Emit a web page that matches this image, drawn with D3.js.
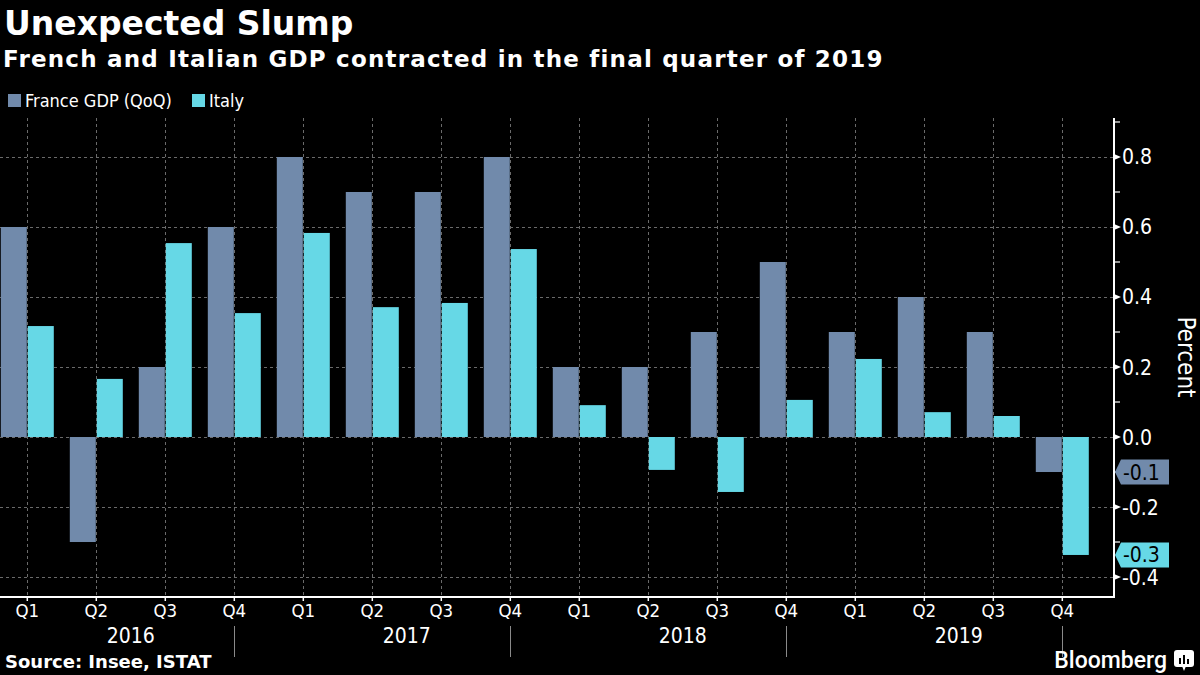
<!DOCTYPE html>
<html>
<head>
<meta charset="utf-8">
<script src="https://cdn.jsdelivr.net/npm/d3@7"></script>
<style>
  html, body { margin: 0; padding: 0; background: #000; }
  svg { display: block; }
  .cond { font-family: "DejaVu Sans Condensed", "DejaVu Sans", sans-serif; font-stretch: condensed; }
  .bold { font-family: "DejaVu Sans", sans-serif; font-weight: bold; }
</style>
</head>
<body>
<svg id="chart" width="1200" height="675"></svg>
<script>
// ---- data ----
const quarters = ["Q1","Q2","Q3","Q4","Q1","Q2","Q3","Q4","Q1","Q2","Q3","Q4","Q1","Q2","Q3","Q4"];
const years = ["2016","2017","2018","2019"];
const periods = quarters.map((q, i) => years[Math.floor(i / 4)] + " " + q);
const seriesNames = ["France GDP (QoQ)", "Italy"];
const france = [0.6, -0.3, 0.2, 0.6, 0.8, 0.7, 0.7, 0.8, 0.2, 0.2, 0.3, 0.5, 0.3, 0.4, 0.3, -0.1];
const italy  = [0.317, 0.166, 0.554, 0.354, 0.583, 0.371, 0.383, 0.537, 0.091, -0.094, -0.157, 0.106, 0.223, 0.071, 0.06, -0.337];
const yMajorTicks = [-0.4, -0.2, 0.0, 0.2, 0.4, 0.6, 0.8];
const yMinorTicks = [-0.3, -0.1, 0.1, 0.3, 0.5, 0.7, 0.9];
const lastLabels = ["-0.1", "-0.3"];

const colors = ["#718aab", "#66d8e6"];

const svg = d3.select("#chart");
svg.append("rect").attr("width", 1200).attr("height", 675).attr("fill", "#000");

// ---- scales ----
const plotLeft = 0, axisX = 1114, plotTop = 118, plotBottom = 597;
const x = d3.scaleBand().domain(periods).range([-7.2, 1096.8]).paddingInner(0.232).paddingOuter(0.116);
const xs = d3.scaleBand().domain(seriesNames).range([0, x.bandwidth()]).paddingInner(0.037);
const y = d3.scaleLinear().domain([-0.4571, 0.9114]).range([plotBottom, plotTop]);
const cx = p => x(p) + x.bandwidth() / 2;

// ---- gridlines ----
const grid = svg.append("g").attr("stroke", "#6a6a6a").attr("stroke-dasharray", "3,3").attr("stroke-width", 1);
grid.selectAll("line.h").data(yMajorTicks).join("line")
  .attr("x1", plotLeft).attr("x2", axisX).attr("y1", d => Math.round(y(d)) + 0.5).attr("y2", d => Math.round(y(d)) + 0.5);
grid.selectAll("line.v").data(periods).join("line")
  .attr("x1", d => Math.round(cx(d)) + 0.5).attr("x2", d => Math.round(cx(d)) + 0.5)
  .attr("y1", plotTop).attr("y2", plotBottom);

// ---- bars ----
const rows = periods.map((p, i) => ({ p, vals: [france[i], italy[i]] }));
const groups = svg.append("g").selectAll("g").data(rows).join("g")
  .attr("transform", d => `translate(${x(d.p)},0)`);
groups.selectAll("rect").data(d => d.vals.map((v, k) => ({ v, k }))).join("rect")
  .attr("x", d => xs(seriesNames[d.k]))
  .attr("width", xs.bandwidth())
  .attr("y", d => y(Math.max(0, d.v)))
  .attr("height", d => Math.abs(y(d.v) - y(0)))
  .attr("fill", d => colors[d.k]);

// ---- x axis ----
svg.append("line").attr("x1", 0).attr("x2", axisX + 1).attr("y1", plotBottom).attr("y2", plotBottom)
  .attr("stroke", "#fff").attr("stroke-width", 2);
svg.append("g").selectAll("line").data(periods).join("line")
  .attr("x1", d => cx(d)).attr("x2", d => cx(d)).attr("y1", plotBottom).attr("y2", plotBottom + 4)
  .attr("stroke", "#fff").attr("stroke-width", 1.5);
svg.append("g").attr("class", "cond").selectAll("text").data(periods).join("text")
  .attr("x", d => cx(d)).attr("y", 617).attr("text-anchor", "middle")
  .attr("fill", "#fff").attr("font-size", 18.5).text((d, i) => quarters[i]);
svg.append("g").attr("class", "cond").selectAll("text").data(years).join("text")
  .attr("x", (d, i) => (cx(periods[i * 4]) + cx(periods[i * 4 + 3])) / 2).attr("y", 643)
  .attr("text-anchor", "middle").attr("fill", "#fff").attr("font-size", 21).text(d => d);
svg.append("g").selectAll("line").data(years).join("line")
  .attr("x1", (d, i) => Math.round(cx(periods[i * 4 + 3])) + 0.5).attr("x2", (d, i) => Math.round(cx(periods[i * 4 + 3])) + 0.5)
  .attr("y1", 626).attr("y2", 657).attr("stroke", "#8a8a8a").attr("stroke-width", 1);

// ---- y axis (right) ----
svg.append("line").attr("x1", axisX).attr("x2", axisX).attr("y1", plotTop).attr("y2", plotBottom + 1)
  .attr("stroke", "#fff").attr("stroke-width", 2);
svg.append("g").selectAll("line").data(yMinorTicks).join("line")
  .attr("x1", axisX).attr("x2", axisX + 6).attr("y1", d => y(d)).attr("y2", d => y(d))
  .attr("stroke", "#fff").attr("stroke-width", 1.2);
svg.append("g").selectAll("path").data(yMajorTicks).join("path")
  .attr("d", d => `M${axisX},${y(d) - 3}L${axisX + 7},${y(d)}L${axisX},${y(d) + 3}Z`)
  .attr("fill", "#fff");
svg.append("g").attr("class", "cond").selectAll("text").data(yMajorTicks).join("text")
  .attr("x", 1122).attr("y", d => y(d) + 7.5).attr("fill", "#fff").attr("font-size", 21)
  .text(d => d3.format(".1f")(d).replace("\u2212", "-"));
svg.append("text").attr("class", "cond")
  .attr("transform", `translate(1178,${357}) rotate(90)`)
  .attr("text-anchor", "middle").attr("fill", "#fff").attr("font-size", 24).attr("font-stretch", "normal")
  .style("font-family", "'DejaVu Sans', sans-serif").text("Percent");

// ---- last value labels ----
const last = periods.length - 1;
const lastVals = [france[last], italy[last]];
const lbl = svg.append("g").selectAll("g").data(lastVals).join("g")
  .attr("transform", d => `translate(${axisX + 1},${y(d)})`);
lbl.append("path").attr("d", "M0,0L6,-12.5L54,-12.5L54,12.5L6,12.5Z").attr("fill", (d, i) => colors[i]);
lbl.append("text").attr("class", "cond").attr("x", 8).attr("y", 7.5).attr("fill", "#000")
  .attr("font-size", 21).text((d, i) => lastLabels[i]);

// ---- titles ----
svg.append("text").attr("class", "bold").attr("x", 4).attr("y", 35).attr("fill", "#fff")
  .attr("font-size", 33).text("Unexpected Slump");
svg.append("text").attr("class", "bold").attr("x", 3).attr("y", 67).attr("fill", "#fff")
  .attr("font-size", 23).attr("letter-spacing", 1.2).text("French and Italian GDP contracted in the final quarter of 2019");

// ---- legend ----
const legendX = [8, 192];
const leg = svg.append("g").selectAll("g").data(seriesNames).join("g")
  .attr("transform", (d, i) => `translate(${legendX[i]},94)`);
leg.append("rect").attr("width", 13).attr("height", 13).attr("fill", (d, i) => colors[i]);
leg.append("text").attr("class", "cond").attr("x", 17).attr("y", 13).attr("fill", "#fff")
  .attr("font-size", 18).text(d => d);

// ---- footer ----
svg.append("text").attr("class", "bold").attr("x", 5).attr("y", 668).attr("fill", "#fff")
  .attr("font-size", 18).text("Source: Insee, ISTAT");
svg.append("text").attr("x", 1167).attr("y", 668).attr("text-anchor", "end").attr("fill", "#fff")
  .attr("font-family", "Roboto, sans-serif").attr("font-weight", 500).attr("font-size", 23).text("Bloomberg");
const icon = svg.append("g").attr("transform", "translate(1174,650)");
icon.append("rect").attr("width", 20).attr("height", 17).attr("rx", 3).attr("fill", "#fff");
icon.append("path").attr("d", "M8,16L10,21L12,16Z").attr("fill", "#fff");
icon.selectAll("rect.b").data([[5, 8, 6], [9, 5, 9], [13, 9, 5]]).join("rect")
  .attr("x", d => d[0]).attr("y", d => d[1]).attr("width", 2).attr("height", d => d[2]).attr("fill", "#000");
</script>
</body>
</html>
